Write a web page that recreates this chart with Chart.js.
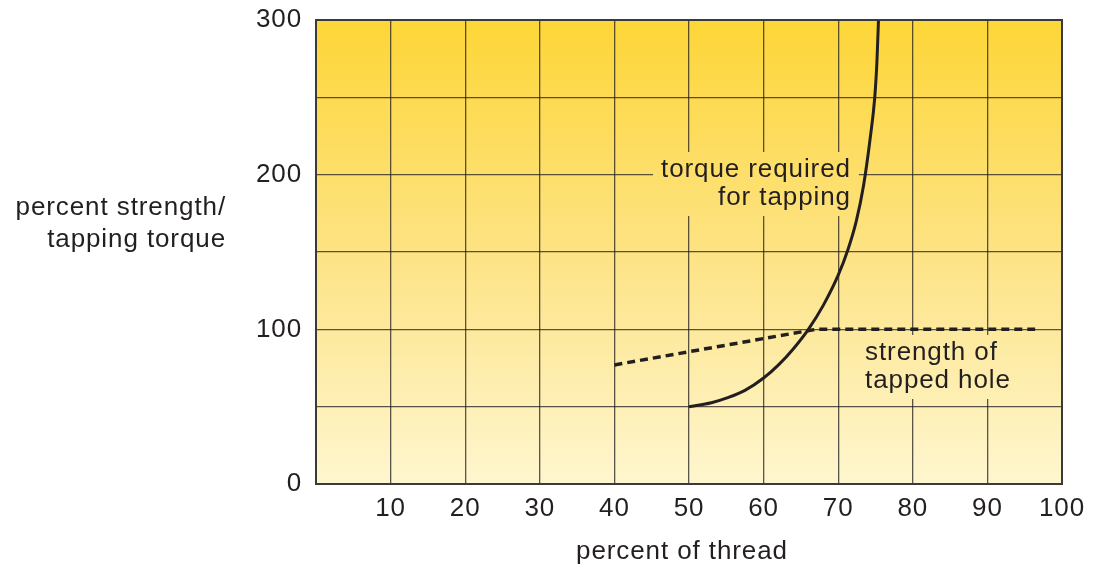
<!DOCTYPE html>
<html>
<head>
<meta charset="utf-8">
<script src="https://cdn.jsdelivr.net/npm/chart.js@4.4.1/dist/chart.umd.min.js"></script>
<style>
  html, body { margin: 0; padding: 0; background: #fff; }
  #wrap { width: 1093px; height: 569px; }
</style>
</head>
<body>
<div id="wrap"><canvas id="threadChart"></canvas></div>
<script>
// percent of thread vs torque required for tapping
const torqueX = [50, 53, 55.2, 57.5, 60, 62, 64, 66, 68, 70, 71.3, 72.4, 73.4, 74.3, 74.9, 75.2, 75.4];
const torqueY = [50, 52.5, 55.8, 60.5, 68.5, 77, 87.5, 100, 115.5, 135, 151.5, 169.5, 193, 224, 250, 274, 300];

// strength of tapped hole
const strengthX = [40, 67, 96.4];
const strengthY = [77, 100, 100];

const xTicks = [10, 20, 30, 40, 50, 60, 70, 80, 90, 100];
const yTicks = [0, 100, 200, 300];

const FONT = "'Liberation Sans', Arial, sans-serif";
const INK = "#231f20";
const SPACING = "0.9px";

const toPoints = (xs, ys) => xs.map((x, i) => ({ x, y: ys[i] }));

// labels drawn inside the plot, anchored at data coords
const notes = [
  { lines: ["torque required", "for tapping"], x: 71.7, y: 203, align: "right" },
  { lines: ["strength of", "tapped hole"], x: 73.6, y: 84.7, align: "left" },
];

function makeGradient(ctx, area) {
  const g = ctx.createLinearGradient(0, area.top, 0, area.bottom);
  g.addColorStop(0, "#fdd637");
  g.addColorStop(0.5, "#fde384");
  g.addColorStop(1, "#fef6cf");
  return g;
}

const backdrop = {
  id: "backdrop",
  beforeDraw(chart) {
    const { ctx, chartArea: a } = chart;
    ctx.save();
    ctx.fillStyle = makeGradient(ctx, a);
    ctx.fillRect(a.left, a.top, a.right - a.left, a.bottom - a.top);
    ctx.restore();
    ctx.letterSpacing = SPACING;
  },
  beforeDatasetsDraw(chart) {
    const { ctx, chartArea: a, scales } = chart;
    ctx.save();
    ctx.letterSpacing = SPACING;
    ctx.font = "26px " + FONT;
    ctx.textBaseline = "middle";
    const lh = 28;
    notes.forEach((n) => {
      const px = scales.x.getPixelForValue(n.x);
      const py = scales.y.getPixelForValue(n.y);
      const w = Math.max(...n.lines.map((l) => ctx.measureText(l).width));
      const left = n.align === "right" ? px - w : px;
      ctx.fillStyle = makeGradient(ctx, a);
      ctx.fillRect(left - 8, py - lh / 2 - 4, w + 16, lh * n.lines.length + 8);
      ctx.fillStyle = INK;
      ctx.textAlign = n.align;
      n.lines.forEach((l, i) => ctx.fillText(l, px, py + i * lh));
    });
    ctx.restore();
  },
  afterDraw(chart) {
    const { ctx, chartArea: a } = chart;
    ctx.save();
    ctx.strokeStyle = "#3a3a3a";
    ctx.lineWidth = 2;
    ctx.strokeRect(a.left, a.top, a.right - a.left, a.bottom - a.top);

    ctx.letterSpacing = SPACING;
    ctx.fillStyle = INK;
    ctx.font = "26px " + FONT;
    ctx.textBaseline = "middle";
    ctx.textAlign = "right";
    ctx.fillText("percent strength/", 226, 208);
    ctx.fillText("tapping torque", 226, 240);
    ctx.textAlign = "center";
    ctx.fillText("percent of thread", 682, 552);
    ctx.restore();
    ctx.letterSpacing = "0px";
  },
};

new Chart(document.getElementById("threadChart"), {
  type: "line",
  data: {
    datasets: [
      {
        label: "torque required for tapping",
        data: toPoints(torqueX, torqueY),
        borderColor: INK,
        borderWidth: 3,
        pointRadius: 0,
        cubicInterpolationMode: "monotone",
        fill: false,
      },
      {
        label: "strength of tapped hole",
        data: toPoints(strengthX, strengthY),
        borderColor: INK,
        borderWidth: 3.5,
        borderDash: [8, 5],
        pointRadius: 0,
        tension: 0,
        fill: false,
      },
    ],
  },
  options: {
    responsive: true,
    maintainAspectRatio: false,
    animation: false,
    layout: { padding: { top: 20, right: 31, bottom: 0, left: 0 } },
    plugins: { legend: { display: false }, tooltip: { enabled: false } },
    scales: {
      x: {
        type: "linear",
        min: 0,
        max: 100,
        ticks: {
          stepSize: 10,
          padding: 9,
          color: INK,
          font: { family: FONT, size: 26 },
          callback: (v) => (xTicks.includes(v) ? v : ""),
        },
        grid: { color: "rgba(35,31,32,0.75)", lineWidth: 1.3, drawTicks: false },
        border: { display: false },
        afterFit: (s) => { s.height = 85; s.paddingLeft = 0; s.paddingRight = 0; },
      },
      y: {
        min: 0,
        max: 300,
        ticks: {
          stepSize: 50,
          padding: 14,
          color: INK,
          font: { family: FONT, size: 26 },
          callback: (v) => (yTicks.includes(v) ? v : ""),
        },
        grid: { color: "rgba(35,31,32,0.75)", lineWidth: 1.3, drawTicks: false },
        border: { display: false },
        afterFit: (s) => { s.width = 316; s.paddingTop = 0; s.paddingBottom = 0; },
      },
    },
  },
  plugins: [backdrop],
});
</script>
</body>
</html>
